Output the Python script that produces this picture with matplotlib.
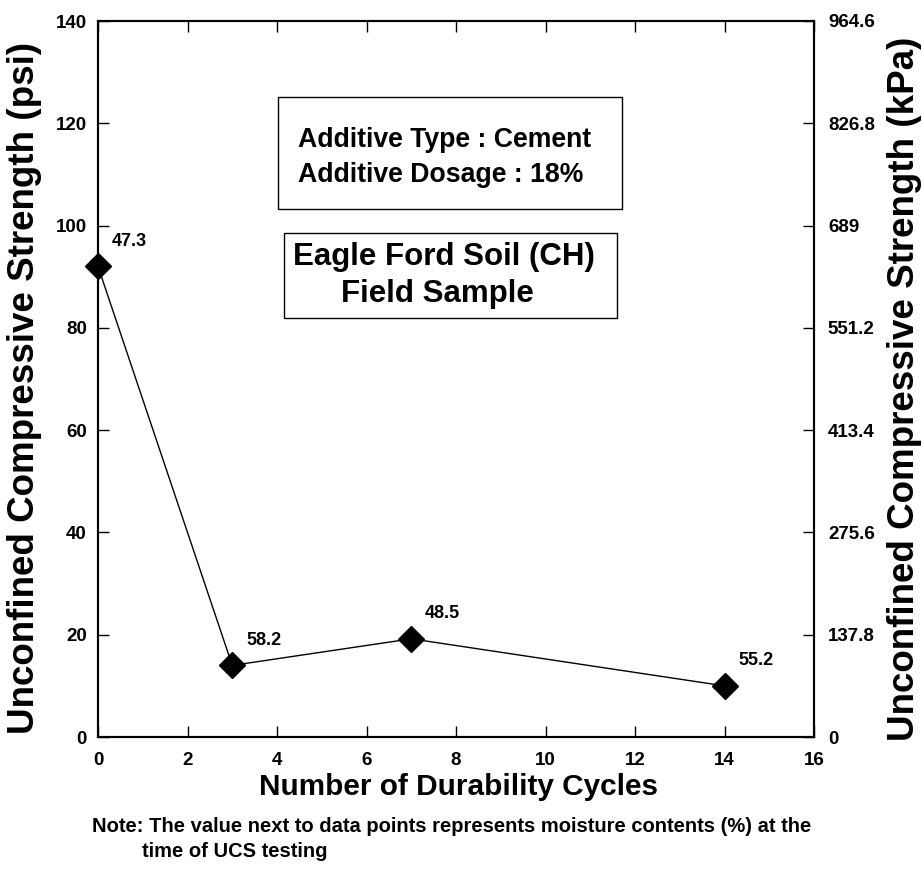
#!/usr/bin/env python
"""
Durability cycles vs unconfined compressive strength (cement, 18%).
"""

import matplotlib.pyplot as plt
from matplotlib.patches import Rectangle

# Data
cycles = [0, 3, 7, 14]
ucs_psi = [92, 14, 19.2, 10]
moisture = ["47.3", "58.2", "48.5", "55.2"]

psi_ticks = [0, 20, 40, 60, 80, 100, 120, 140]
kpa_ticks = [0, 137.8, 275.6, 413.4, 551.2, 689, 826.8, 964.6]
kpa_labels = ["0", "137.8", "275.6", "413.4", "551.2", "689", "826.8", "964.6"]
x_ticks = [0, 2, 4, 6, 8, 10, 12, 14, 16]

FONT = "Liberation Sans"


def bold_ticks(labels):
    for lab in labels:
        lab.set_fontweight("bold")
        lab.set_family(FONT)


def plot_ucs():
    fig = plt.figure(figsize=(9.22, 8.75), dpi=100)
    ax = fig.add_axes([0.1063, 0.1577, 0.7766, 0.8183])

    ax.plot(cycles, ucs_psi, color="black", lw=1, marker="D", ms=13.5,
            mfc="black", mec="black", zorder=3, clip_on=False)
    for x, y, txt in zip(cycles, ucs_psi, moisture):
        ax.annotate(txt, (x, y), xytext=(10, 18), textcoords="offset points",
                    fontsize=13, fontweight="bold", family=FONT,
                    ha="left", va="center")

    ax.set_xlim(0, 16)
    ax.set_ylim(0, 140)
    ax.set_xticks(x_ticks)
    ax.set_yticks(psi_ticks)
    ax.tick_params(axis="both", direction="in", length=8, width=1,
                   labelsize=13.5, top=True)
    ax.tick_params(axis="x", pad=11)
    ax.tick_params(axis="y", pad=8)
    bold_ticks(ax.get_xticklabels() + ax.get_yticklabels())
    for sp in ax.spines.values():
        sp.set_linewidth(1.5)

    ax2 = ax.twinx()
    ax2.set_ylim(0, 964.6)
    ax2.set_yticks(kpa_ticks)
    ax2.set_yticklabels(kpa_labels)
    ax2.tick_params(axis="y", direction="in", length=8, width=1,
                    labelsize=13.5, pad=10)
    bold_ticks(ax2.get_yticklabels())
    for sp in ax2.spines.values():
        sp.set_linewidth(1.5)

    ax.set_xlabel("Number of Durability Cycles", fontsize=21.4,
                  fontweight="bold", family=FONT, va="baseline")
    ax.xaxis.set_label_coords(0.503, -0.081)
    ax.set_ylabel("Unconfined Compressive Strength (psi)", fontsize=26.5,
                  fontweight="bold", family=FONT, va="center")
    ax.yaxis.set_label_coords(-0.102, 0.487)
    ax2.set_ylabel("Unconfined Compressive Strength (kPa)", fontsize=26.5,
                   fontweight="bold", family=FONT, va="center", rotation=90)
    ax2.yaxis.set_label_coords(1.127, 0.487)

    # text boxes
    ax.add_patch(Rectangle((0.2514, 0.7374), 0.4804, 0.1565, transform=ax.transAxes,
                           fill=False, ec="black", lw=1))
    ax.text(0.2793, 0.824, "Additive Type : Cement", transform=ax.transAxes,
            fontsize=19.2, fontweight="bold", family=FONT, ha="left", va="baseline")
    ax.text(0.2793, 0.775, "Additive Dosage : 18%", transform=ax.transAxes,
            fontsize=19.2, fontweight="bold", family=FONT, ha="left", va="baseline")

    ax.add_patch(Rectangle((0.2598, 0.5852), 0.4651, 0.1187, transform=ax.transAxes,
                           fill=False, ec="black", lw=1))
    ax.text(0.4832, 0.6705, "Eagle Ford Soil (CH)", transform=ax.transAxes,
            fontsize=22.5, fontweight="bold", family=FONT, ha="center", va="center")
    ax.text(0.4735, 0.619, "Field Sample", transform=ax.transAxes,
            fontsize=22.5, fontweight="bold", family=FONT, ha="center", va="center")

    # note below the chart
    fig.text(0.0998, 0.0491, "Note: The value next to data points represents "
             "moisture contents (%) at the", fontsize=14.5, fontweight="bold",
             family=FONT, ha="left", va="baseline")
    fig.text(0.154, 0.0206, "time of UCS testing", fontsize=14.5, fontweight="bold",
             family=FONT, ha="left", va="baseline")

    fig.savefig("out.png", dpi=100)


if __name__ == "__main__":
    plot_ucs()
